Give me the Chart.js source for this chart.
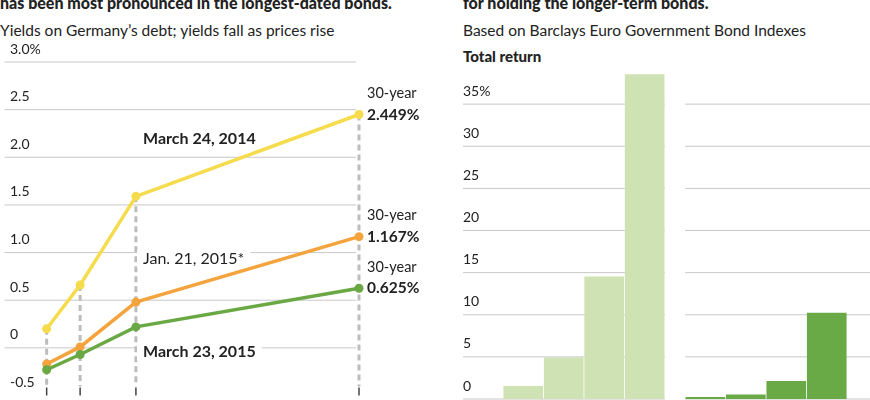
<!DOCTYPE html>
<html><head><meta charset="utf-8">
<script src="https://cdn.jsdelivr.net/npm/chart.js@4/dist/chart.umd.min.js"></script>
<style>
body{margin:0;background:#fff;width:870px;height:400px;overflow:hidden;position:relative;font-family:Lato,"Liberation Sans",sans-serif}
canvas{position:absolute;top:0}
.t{position:absolute;white-space:nowrap;color:#222}
</style></head><body>
<div class="t" style="left:0;top:-7px;font-weight:900;font-size:16px;">has been most pronounced in the longest-dated bonds.</div>
<div class="t" style="left:0;top:21px;font-size:15.5px;">Yields on Germany’s debt; yields fall as prices rise</div>
<div class="t" style="left:463px;top:-7px;font-weight:900;font-size:16px;">for holding the longer-term bonds.</div>
<div class="t" style="left:463px;top:21px;font-size:15.5px;">Based on Barclays Euro Government Bond Indexes</div>
<div class="t" style="left:463px;top:47px;font-weight:900;font-size:15px;">Total return</div>
<div id="lw" style="position:absolute;left:0;top:0;width:440px;height:400px"><canvas id="c1"></canvas></div>
<div id="rw" style="position:absolute;left:440px;top:0;width:430px;height:400px"><canvas id="c2"></canvas></div>
<script>
const maturities=[2,5,10,30];
const yMar2014=[0.20,0.66,1.59,2.449];
const yJan2015=[-0.17,0.01,0.48,1.167];
const yMar2015=[-0.23,-0.07,0.22,0.625];
const yTicks=[-0.5,0,0.5,1.0,1.5,2.0,2.5,3.0];
const yTickLabels=["-0.5","0","0.5","1.0","1.5","2.0","2.5","3.0%"];
const bars52w=[1.5,4.9,14.5,38.5];
const barsSinceECB=[0.2,0.5,2.1,10.2];
const barPos52w=[0,1,2,3];
const barPosECB=[4.5,5.5,6.5,7.5];
const rTicks=[0,5,10,15,20,25,30,35];
const rTickLabels=["0","5","10","15","20","25","30","35%"];

Chart.defaults.font.family='Lato, "Liberation Sans", sans-serif';
Chart.defaults.animation=false;

function label(ctx,txt,x,y,font,align,bg){
  ctx.save();ctx.font=font;ctx.textAlign=align||'left';ctx.textBaseline='middle';
  if(bg){const w=ctx.measureText(txt).width;const lx=align==='center'?x-w/2:x;
    ctx.fillStyle='#fff';ctx.fillRect(lx-6,y-9,w+12,18);}
  ctx.fillStyle='#222';ctx.fillText(txt,x,y);ctx.restore();
}

const leftPlugin={id:'lp',
 beforeDatasetsDraw(ch){
  const c=ch.ctx,xs=ch.scales.x,ys=ch.scales.y,a=ch.chartArea;
  c.save();
  c.strokeStyle='#c8c8c8';c.lineWidth=1;
  yTicks.forEach((v,i)=>{const y=ys.getPixelForValue(v);
    if(v>-0.5){c.beginPath();c.moveTo(a.left,y);c.lineTo(356,y);c.stroke();}
    label(c,yTickLabels[i],10,y-13,'14px Lato','left');});
  const bottom=ys.getPixelForValue(-0.5);
  c.setLineDash([6,4]);c.strokeStyle='#bdbdbd';c.lineWidth=3;
  maturities.forEach((m,i)=>{const x=xs.getPixelForValue(m);
    c.beginPath();c.moveTo(x,ys.getPixelForValue(yMar2014[i]));c.lineTo(x,bottom-9);c.stroke();});
  c.setLineDash([]);c.strokeStyle='#444';c.lineWidth=1.5;
  maturities.forEach(m=>{const x=xs.getPixelForValue(m);c.beginPath();c.moveTo(x,bottom-8);c.lineTo(x,bottom);c.stroke();});
  c.restore();
  label(c,'March 24, 2014',143,139,'bold 16px Lato','left',true);
  label(c,'Jan. 21, 2015*',143,259,'16px Lato','left',true);
  label(c,'March 23, 2015',143,352,'bold 16px Lato','left',true);
 },
 afterDatasetsDraw(ch){
  const c=ch.ctx,ys=ch.scales.y;
  [[yMar2014[3],'2.449%'],[yJan2015[3],'1.167%'],[yMar2015[3],'0.625%']].forEach(([v,t])=>{
    const y=ys.getPixelForValue(v);
    label(c,'30-year',367,y-21,'14.5px Lato','left');
    label(c,t,367,y,'bold 15.5px Lato','left');});
 }};

function ds(data,color){return{data:maturities.map((m,i)=>({x:m,y:data[i]})),borderColor:color,backgroundColor:color,borderWidth:3.5,pointRadius:4.5,pointBorderWidth:0,clip:false};}

new Chart(document.getElementById('c1'),{type:'line',
 data:{datasets:[ds(yMar2015,'#6aa844'),ds(yJan2015,'#f5a33c'),ds(yMar2014,'#f6dc4c')]},
 options:{responsive:true,maintainAspectRatio:false,layout:{padding:{left:0,right:81,top:62,bottom:0}},
  plugins:{legend:{display:false},tooltip:{enabled:false}},
  scales:{x:{type:'linear',min:-1.78,max:30,display:false},y:{min:-0.5,max:3.0,display:false}}},
 plugins:[leftPlugin]});

const rightPlugin={id:'rp',
 beforeDatasetsDraw(ch){
  const c=ch.ctx,xs=ch.scales.x,ys=ch.scales.y,a=ch.chartArea;
  const g1=[a.left,xs.getPixelForValue(3.5)],g2=[xs.getPixelForValue(4.0),a.right];
  c.save();c.strokeStyle='#c8c8c8';c.lineWidth=1;
  rTicks.forEach((v,i)=>{const y=ys.getPixelForValue(v);
    [g1,g2].forEach(g=>{c.beginPath();c.moveTo(g[0],y);c.lineTo(g[1],y);c.stroke();});
    label(c,rTickLabels[i],a.left,y-13,'14px Lato','left');});
  c.restore();
  label(c,'Over the past',553,79,'16px Lato','center',true);
  label(c,'52 weeks...',553,99,'16px Lato','center',true);
  ['...and even just since','the ECB announced its','bond-buying program;','returns from','Jan. 21, 2015* through','March 23, 2015.']
   .forEach((t,i)=>label(c,t,775,71+i*20.7,'16px Lato','center',true));
 }};

const allPos=barPos52w.concat(barPosECB), allVals=bars52w.concat(barsSinceECB);
new Chart(document.getElementById('c2'),{type:'bar',
 data:{datasets:[
  {data:allPos.map((p,i)=>({x:p,y:allVals[i]})),
   backgroundColor:allPos.map((p,i)=>i<4?'#cfe2b3':'#6aaa46'),barThickness:39}]},
 options:{responsive:true,maintainAspectRatio:false,layout:{padding:{left:23,right:0,top:62,bottom:1}},
  plugins:{legend:{display:false},tooltip:{enabled:false}},
  scales:{x:{type:'linear',min:-0.93,max:8.01,display:false},y:{min:0,max:40,display:false}}},
 plugins:[rightPlugin]});
</script></body></html>
